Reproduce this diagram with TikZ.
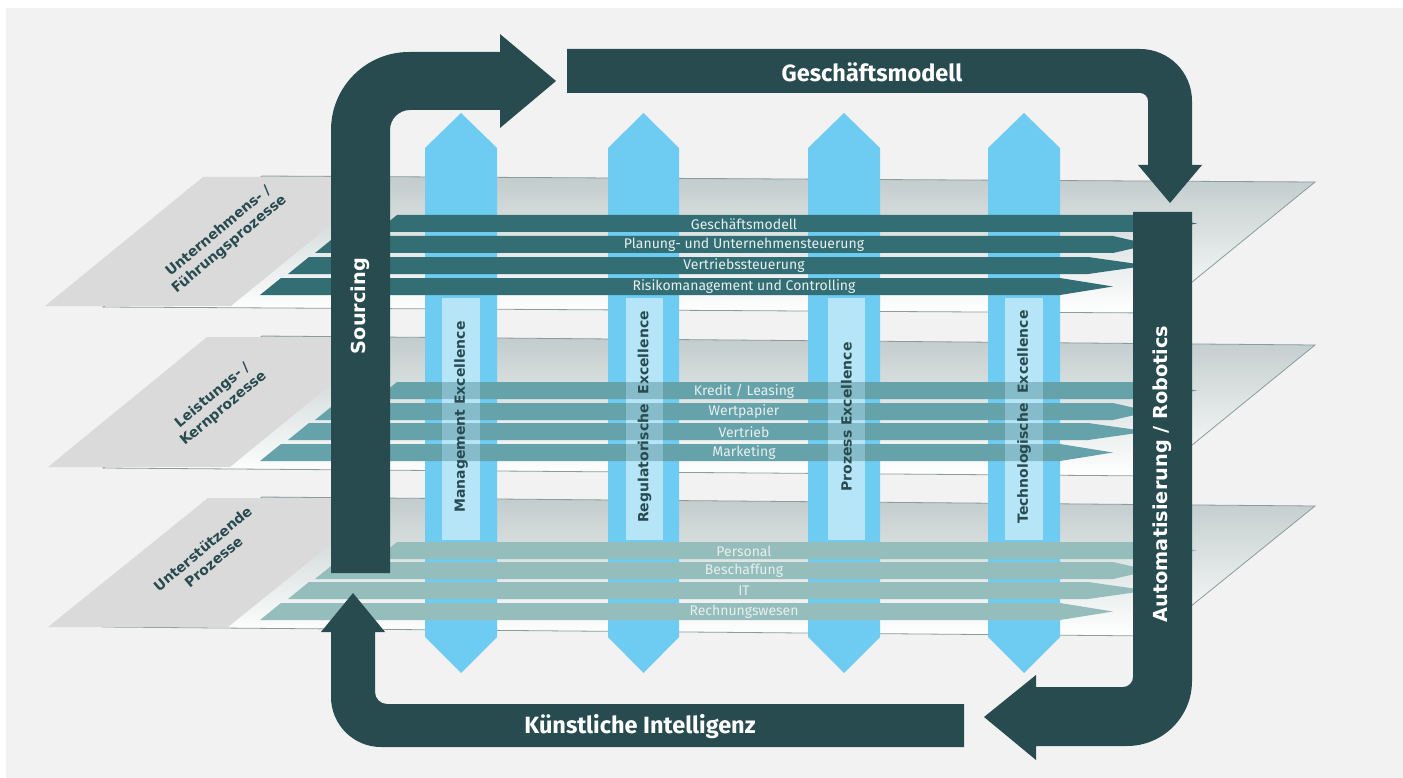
\documentclass[tikz,border=0pt]{standalone}
\usepackage{fontspec}
\setmainfont{Fira Sans}
\newfontfamily\dvs{DejaVu Sans}
\definecolor{bgc}{HTML}{F2F2F2}
\definecolor{dark}{HTML}{284B4F}
\definecolor{bandA}{HTML}{336E74}
\definecolor{bandB}{HTML}{66A2AA}
\definecolor{bandC}{HTML}{94BDBB}
\definecolor{blueA}{HTML}{6ECBF1}
\definecolor{boxc}{HTML}{B7E5F8}
\definecolor{labelc}{HTML}{DADADA}
\definecolor{planetop}{HTML}{C2CCCC}
\definecolor{planeline}{HTML}{8A9C9C}
\definecolor{bandtext}{HTML}{E8EFEF}
\newcommand\bandpoly[5]{% color, ytop, xTL, xflat, xtip
  \fill[#1] (#3,#2) -- (#4,#2) -- (#5,{#2+8.5}) -- (#4,{#2+17}) -- ({#3-21},{#2+17}) -- cycle;}
\newcommand\bluearrow[2]{% xl, xr
  \fill[blueA] (#1,148) -- ({(#1+#2)/2},113) -- (#2,148) -- (#2,637) -- ({(#1+#2)/2},673) -- (#1,637) -- cycle;}
\tikzset{
  bandlabel/.style={text=bandtext, font=\fontsize{14}{14}\selectfont, inner sep=0pt},
  exclabel/.style={text=dark, rotate=90, font=\dvs\bfseries\fontsize{14}{14}\selectfont, inner sep=0pt},
  planelabel/.style={text=dark, rotate=40, align=center, font=\dvs\bfseries\fontsize{14}{17}\selectfont, inner sep=0pt},
  bigwhite/.style={text=white, font=\bfseries\fontsize{23.5}{23.5}\selectfont, inner sep=0pt},
  barwhite/.style={text=white, rotate=90, font=\dvs\bfseries\fontsize{19.3}{19.3}\selectfont, inner sep=0pt},
  planeedge/.style={draw=planeline, line width=0.8pt}
}
\begin{document}
\begin{tikzpicture}[x=1pt,y=-1pt]
\useasboundingbox (0,0) rectangle (1403,778);
\fill[white] (0,0) rectangle (1403,778);
\fill[bgc] (6,8) rectangle (1403,778);
% planes
\foreach \a/\b/\c/\d in {307/176/182/313, 468/336/345/476, 627/497/506/636}{
  \shade[top color=planetop, bottom color=white, planeedge] (103,\a) -- (262,\b) -- (1315,\c) -- (1154,\d) -- cycle;
}
\fill[labelc] (45,306) -- (203,177) -- (389,177) -- (231,306) -- cycle;
\fill[labelc] (48,467) -- (207,337) -- (389,337) -- (230,467) -- cycle;
\fill[labelc] (48,627) -- (208,498) -- (388,498) -- (228,627) -- cycle;
% blue arrows
\bluearrow{425}{497}
\bluearrow{608}{679}
\bluearrow{808}{880}
\bluearrow{988}{1060}
% bands
\foreach \col/\ya/\yb/\yc/\yd in {bandA/215/236/257/278, bandB/382/403/423/444, bandC/542/562/582/603}{
  \bandpoly{\col}{\ya}{397}{1150}{1197}
  \bandpoly{\col}{\yb}{336}{1113}{1150}
  \bandpoly{\col}{\yc}{309}{1088}{1148}
  \bandpoly{\col}{\yd}{281}{1060}{1113}
}
% excellence boxes
\fill[boxc] (442,298) rectangle (480,540);
\fill[boxc] (626,298) rectangle (663,540);
\fill[boxc] (828,298) rectangle (865,540);
\fill[boxc] (1005,298) rectangle (1043,540);
\begin{scope}
  \clip (442,298) rectangle (480,540) (626,298) rectangle (663,540) (828,298) rectangle (865,540) (1005,298) rectangle (1043,540);
  \begin{scope}[opacity=0.6]
    \bandpoly{bandB}{382}{397}{1150}{1197}
    \bandpoly{bandB}{403}{336}{1113}{1150}
    \bandpoly{bandB}{423}{309}{1088}{1148}
    \bandpoly{bandB}{444}{281}{1060}{1113}
  \end{scope}
\end{scope}
% dark cycle arrows
\fill[dark] (331,573) -- (331,130) arc[start angle=180,end angle=270,radius=78] -- (500,52) -- (500,34) -- (556,81) -- (500,128) -- (500,110) -- (410,110) arc[start angle=270,end angle=180,radius=20] -- (390,573) -- cycle;
\fill[dark] (567,49) -- (1140,49) arc[start angle=270,end angle=360,radius=52] -- (1192,165) -- (1202,165) -- (1170,203) -- (1138,165) -- (1148,165) -- (1148,101) arc[start angle=0,end angle=-90,radius=8] -- (567,93) -- cycle;
\fill[dark] (1133,212) -- (1192,212) -- (1192,681) arc[start angle=0,end angle=90,radius=65] -- (1036,746) -- (1036,760) -- (984,717) -- (1036,675) -- (1036,687) -- (1123,687) arc[start angle=90,end angle=0,radius=10] -- cycle;
\fill[dark] (964,704) -- (387,704) arc[start angle=90,end angle=180,radius=12] -- (375,632) -- (385,632) -- (353,593) -- (321,632) -- (331,632) -- (331,697) arc[start angle=180,end angle=90,radius=50] -- (964,747) -- cycle;
% band labels
\node[bandlabel] (t1) at (744,224) {Geschäftsmodell};
\node[bandlabel] (t2) at (744,245) {Planung- und Unternehmensteuerung};
\node[bandlabel] (t3) at (744,266) {Vertriebssteuerung};
\node[bandlabel] (t4) at (744,287) {Risikomanagement und Controlling};
\node[bandlabel] (t5) at (744,391) {Kredit / Leasing};
\node[bandlabel] (t6) at (744,412) {Wertpapier};
\node[bandlabel] (t7) at (744,432) {Vertrieb};
\node[bandlabel] (t8) at (744,453) {Marketing};
\node[bandlabel] (t9) at (744,551) {Personal};
\node[bandlabel] (t10) at (744,571) {Beschaffung};
\node[bandlabel] (t11) at (744,591) {IT};
\node[bandlabel] (t12) at (744,612) {Rechnungswesen};
% excellence labels
\node[exclabel] (e1) at (461,417) {Management Excellence};
\node[exclabel] (e2) at (644.5,417) {Regulatorische\ \ Excellence};
\node[exclabel] (e3) at (846.5,417) {Prozess Excellence};
\node[exclabel] (e4) at (1024,417) {Technologische\ \ Excellence};
% plane labels
\node[planelabel] (p1) at (224,238) {Unternehmens- /\\Führungsprozesse};
\node[planelabel] (p2) at (218,402) {Leistungs- /\\Kernprozesse};
\node[planelabel] (p3) at (208,555) {Unterstützende\\Prozesse};
% arrow labels
\node[bigwhite] (a1) at (872,72) {Geschäftsmodell};
\node[bigwhite] (a2) at (640,727) {Künstliche Intelligenz};
\node[barwhite] (a3) at (360,306) {Sourcing};
\node[barwhite] (a4) at (1162,474) {Automatisierung / Robotics};
\end{tikzpicture}
\end{document}
